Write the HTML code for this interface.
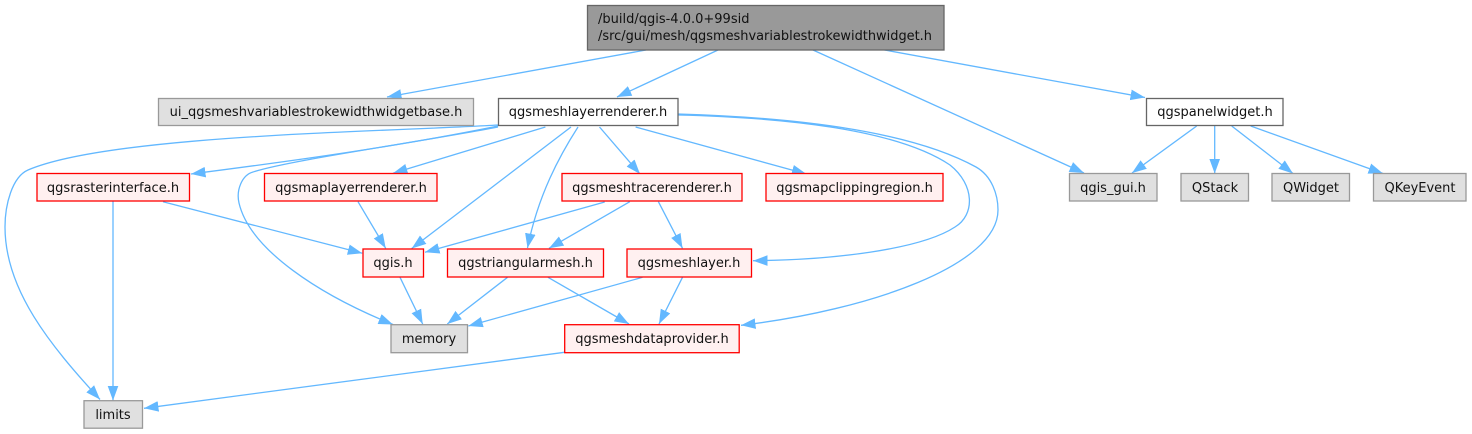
<!DOCTYPE html>
<html>
<head>
<meta charset="utf-8">
<style>
html,body{margin:0;padding:0;background:#fff;width:1472px;height:434px;overflow:hidden}
svg{display:block}
text{font-family:"DejaVu Sans",sans-serif;font-size:13px;fill:#111;text-anchor:middle}
.e{fill:none;stroke:#63b8ff;stroke-width:1.3}
.g{fill:#e0e0e0;stroke:#999;stroke-width:1.3}
.w{fill:#fff;stroke:#666;stroke-width:1.3}
.r{fill:#fff0f0;stroke:#f00;stroke-width:1.3}
</style>
</head>
<body>
<svg width="1472" height="434" viewBox="0 0 1472 434" xmlns="http://www.w3.org/2000/svg">
<defs>
<marker id="a" markerUnits="userSpaceOnUse" markerWidth="16" markerHeight="12" refX="14.5" refY="5.5" orient="auto">
<polygon points="0,0.2 14.5,5.5 0,10.8" fill="#63b8ff"/>
</marker>
</defs>
<g>
<path class="e" marker-end="url(#a)" d="M646,50L387,97"/>
<path class="e" marker-end="url(#a)" d="M718,50L617,97"/>
<path class="e" marker-end="url(#a)" d="M813,50L1084,173"/>
<path class="e" marker-end="url(#a)" d="M884.5,50L1145,97.5"/>
<path class="e" marker-end="url(#a)" d="M1196.7,126L1132,173"/>
<path class="e" marker-end="url(#a)" d="M1214.7,126L1214.7,173.5"/>
<path class="e" marker-end="url(#a)" d="M1231.7,126L1293,173.5"/>
<path class="e" marker-end="url(#a)" d="M1250.7,126L1383,173.5"/>
<path class="e" marker-end="url(#a)" d="M498,125C380,132 110,135 28,170C12,177 5,205 5,227C5,290 50,345 100,399.5"/>
<path class="e" marker-end="url(#a)" d="M498,126C400,146 300,160 191,174"/>
<path class="e" marker-end="url(#a)" d="M498,127C420,142 290,160 253,172C242,175 236,190 239,203C250,250 320,295 393,324.5"/>
<path class="e" marker-end="url(#a)" d="M545.4,127L393,173.3"/>
<path class="e" marker-end="url(#a)" d="M571,127L411.7,248.5"/>
<path class="e" marker-end="url(#a)" d="M578,127C560,155 538,195 527.5,248"/>
<path class="e" marker-end="url(#a)" d="M599.5,127L640,174"/>
<path class="e" marker-end="url(#a)" d="M635.6,127L806.4,174"/>
<path class="e" marker-end="url(#a)" d="M678,115C760,117 890,125 950,165C975,185 975,215 955,227C920,250 830,260 753,260.7"/>
<path class="e" marker-end="url(#a)" d="M678,114C780,117 905,128 976,167C992,176 998,195 998,210C998,265 870,310 741,325.3"/>
<path class="e" marker-end="url(#a)" d="M113,201.5L113,400.5"/>
<path class="e" marker-end="url(#a)" d="M163,201.7L362.3,253.3"/>
<path class="e" marker-end="url(#a)" d="M358,201.7L385.7,248.3"/>
<path class="e" marker-end="url(#a)" d="M604.7,202L425,252.3"/>
<path class="e" marker-end="url(#a)" d="M629.8,201.7L549,248.3"/>
<path class="e" marker-end="url(#a)" d="M658.4,201.7L682.5,248.3"/>
<path class="e" marker-end="url(#a)" d="M400,277.3L422.7,324"/>
<path class="e" marker-end="url(#a)" d="M507.5,277.3L447.3,324"/>
<path class="e" marker-end="url(#a)" d="M548,277.3L629,324"/>
<path class="e" marker-end="url(#a)" d="M642.5,277.3L468.3,326"/>
<path class="e" marker-end="url(#a)" d="M682.5,277.3L659,324"/>
<path class="e" marker-end="url(#a)" d="M564.4,352.3L144,408.3"/>
</g>

<rect x="587.5" y="5.5" width="356.5" height="44.5" fill="#999" stroke="#666" stroke-width="1.3"/>
<text x="598" y="23" style="text-anchor:start">/build/qgis-4.0.0+99sid</text>
<text x="598" y="40" style="text-anchor:start" textLength="334" lengthAdjust="spacingAndGlyphs">/src/gui/mesh/qgsmeshvariablestrokewidthwidget.h</text>

<rect class="g" x="158.5" y="98.5" width="315" height="27"/><text x="316" y="116">ui_qgsmeshvariablestrokewidthwidgetbase.h</text>
<rect class="w" x="498.5" y="98.5" width="179.5" height="27"/><text x="588" y="116">qgsmeshlayerrenderer.h</text>
<rect class="w" x="1146.5" y="98.5" width="136.5" height="27"/><text x="1215" y="116">qgspanelwidget.h</text>

<rect class="g" x="1069.5" y="173.5" width="87.5" height="27.5"/><text x="1113" y="192">qgis_gui.h</text>
<rect class="g" x="1181" y="173.5" width="67.5" height="27.5"/><text x="1215" y="192">QStack</text>
<rect class="g" x="1272" y="173.5" width="77.5" height="27.5"/><text x="1311" y="192">QWidget</text>
<rect class="g" x="1373.5" y="173.5" width="92.5" height="27.5"/><text x="1420" y="192">QKeyEvent</text>

<rect class="r" x="37" y="173.5" width="152.5" height="27.5"/><text x="113" y="192">qgsrasterinterface.h</text>
<rect class="r" x="264.5" y="173.5" width="172.5" height="27.5"/><text x="351" y="192">qgsmaplayerrenderer.h</text>
<rect class="r" x="562" y="173.5" width="180" height="27.5"/><text x="652" y="192">qgsmeshtracerenderer.h</text>
<rect class="r" x="766" y="173.5" width="177" height="27.5"/><text x="854.5" y="192">qgsmapclippingregion.h</text>

<rect class="r" x="363" y="249" width="60.5" height="28"/><text x="393" y="267">qgis.h</text>
<rect class="r" x="447.5" y="249" width="156" height="28"/><text x="525.5" y="267">qgstriangularmesh.h</text>
<rect class="r" x="627" y="249" width="124.5" height="28"/><text x="689" y="267">qgsmeshlayer.h</text>

<rect class="g" x="391" y="324.7" width="76.5" height="28"/><text x="429" y="343">memory</text>
<rect class="r" x="564.7" y="324.7" width="174.5" height="28"/><text x="652" y="343">qgsmeshdataprovider.h</text>
<rect class="g" x="84" y="400.7" width="58.5" height="27.5"/><text x="113" y="419">limits</text>
</svg>
</body>
</html>
